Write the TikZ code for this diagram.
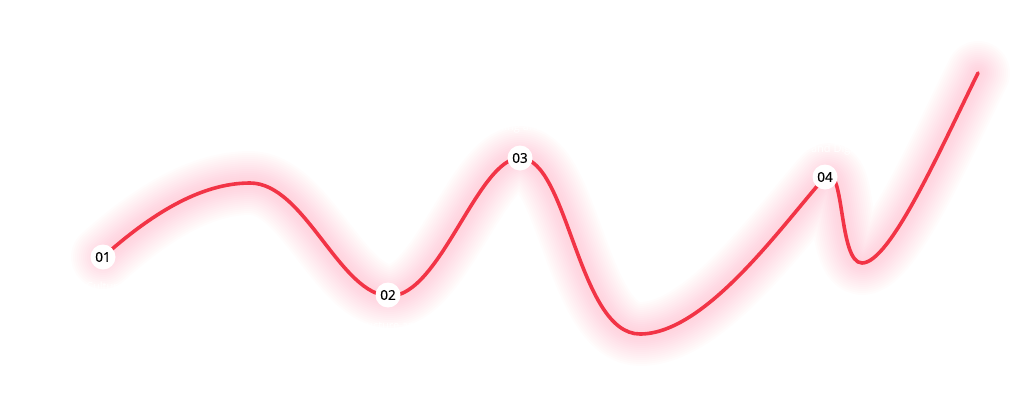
\documentclass[tikz,border=0pt]{standalone}
\usepackage{fontspec}
\setmainfont{Open Sans}
\newfontfamily\lblfont[FakeBold=0.6]{Open Sans}
\definecolor{curvered}{RGB}{242,52,70}
\definecolor{glowred}{RGB}{255,50,80}
\begin{document}
\begin{tikzpicture}[x=1pt,y=-1pt,
  lbl/.style={circle,fill=white,inner sep=0pt,minimum size=25pt,font=\lblfont\fontsize{13.5}{14}\selectfont,text=black},
  ghost/.style={text=white,font=\fontsize{11}{12}\selectfont},
  glowline/.style={line cap=round,line join=round}]
\useasboundingbox (0,0) rectangle (1024,410);
\fill[white] (0,0) rectangle (1024,410);
\coordinate (p1) at (103,257);
\coordinate (pk) at (250,183);
\coordinate (p2) at (390,296);
\coordinate (p3) at (520,158);
\coordinate (mn) at (640,334);
\coordinate (p4) at (825,177);
\coordinate (dp) at (862,263);
\coordinate (en) at (978,73);
\def\curvepath{(p1) .. controls (150,215) and (200,183) .. (pk)
  .. controls (305,183) and (340,296) .. (p2)
  .. controls (440,296) and (478,158) .. (p3)
  .. controls (568,158) and (578,334) .. (mn)
  .. controls (705,334) and (780,228) .. (p4)
  .. controls (845,160) and (838,263) .. (dp)
  .. controls (890,263) and (940,150) .. (en)}
\foreach \w in {64,60,...,8}{
  \draw[glowline,draw=glowred,line width=\w pt,draw opacity=0.011] \curvepath;
}
\draw[glowline,draw=curvered,line width=3.6pt] \curvepath;
\node[ghost] (t1) at (105,286) {Culture};
\node[ghost] (t2) at (390,325) {Infrastructure and Tools};
\node[ghost] (t3) at (520,128) {Marketing and Sales};
\node[ghost] (t4) at (825,150) {Data and Digital};
\node[lbl] (n1) at (p1) {01};
\node[lbl] (n2) at (388,295) {02};
\node[lbl] (n3) at (p3) {03};
\node[lbl] (n4) at (p4) {04};
\end{tikzpicture}
\end{document}
